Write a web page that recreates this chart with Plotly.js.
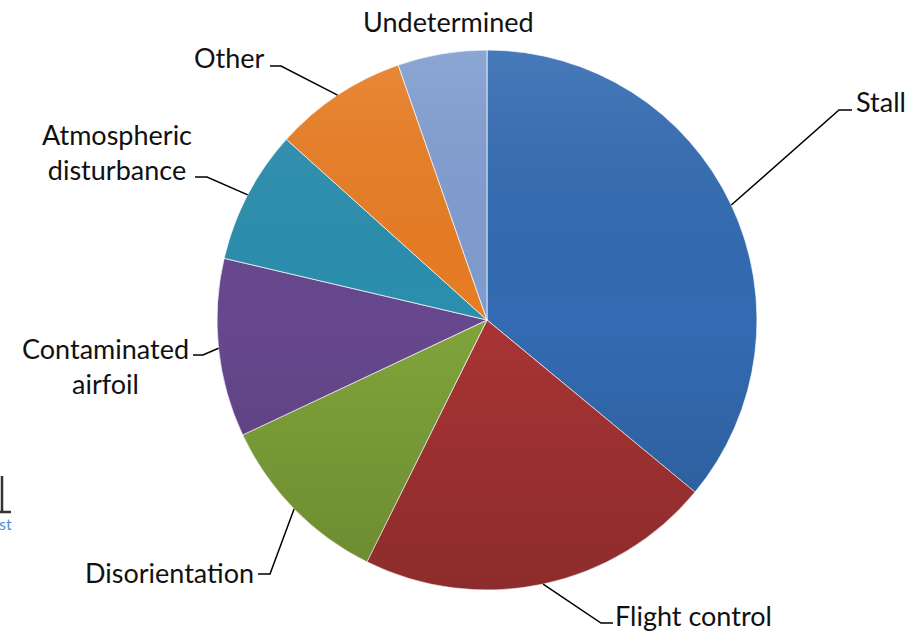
<!DOCTYPE html>
<html>
<head>
<meta charset="utf-8">
<script src="https://cdn.plot.ly/plotly-3.0.1.min.js"></script>
<style>html,body{margin:0;padding:0;background:#fff;}#chart{width:910px;height:633px;}</style>
</head>
<body>
<div id="chart"></div>
<script>
// ---- data ----
const categories = ["Stall", "Flight control", "Disorientation", "Contaminated airfoil", "Atmospheric disturbance", "Other", "Undetermined"];
const labelTexts = ["Stall", "Flight control", "Disorientation", "Contaminated<br>airfoil", "Atmospheric<br>disturbance", "Other", "Undetermined"];
const values = [27, 16, 8, 8, 6, 6, 4];
const colors = ["#336bb2", "#a83434", "#80a43a", "#67488e", "#2b8fae", "#e87d24", "#809dd0"];

// ---- geometry / style ----
const W = 910, H = 633;
const CX = 487, CY = 320, R = 270;
const px = x => x / W;
const py = y => 1 - y / H;

// label styling: elbow point, end of leader, label anchor (pixel space)
const labelStyle = [
  {elbow: [839, 110], end: [852, 110], pos: [854, 101], xa: "left"},
  {elbow: [601, 623], end: [613, 623], pos: [613, 615], xa: "left"},
  {elbow: [270, 574], end: [258, 574], pos: [256, 572], xa: "right"},
  {elbow: [203, 355], end: [193, 355], pos: [191, 366], xa: "right"},
  {elbow: [207, 177], end: [195, 177], pos: [194, 152], xa: "right"},
  {elbow: [281, 66], end: [270, 66], pos: [267, 57], xa: "right"},
  {elbow: null, end: null, pos: [448, 22], xa: "center"}
];

const total = values.reduce((a, b) => a + b, 0);
let cum = 0;
const shapes = [];
const annotations = [];
values.forEach((v, i) => {
  const mid = (cum + v / 2) / total * 2 * Math.PI;
  cum += v;
  const sx = CX + R * Math.sin(mid), sy = CY - R * Math.cos(mid);
  const st = labelStyle[i];
  if (st.elbow) {
    shapes.push({
      type: "path", xref: "paper", yref: "paper",
      path: `M ${px(sx)} ${py(sy)} L ${px(st.elbow[0])} ${py(st.elbow[1])} L ${px(st.end[0])} ${py(st.end[1])}`,
      line: {color: "#000", width: 1.5}
    });
  }
  annotations.push({
    xref: "paper", yref: "paper", x: px(st.pos[0]), y: py(st.pos[1]),
    xanchor: st.xa, yanchor: "middle", align: "center",
    text: labelTexts[i], showarrow: false,
    font: {family: "Lato, 'Open Sans', sans-serif", size: 27, color: "#111"}
  });
});

// partial logo at left edge
shapes.push({type: "line", xref: "paper", yref: "paper", x0: px(2), y0: py(476), x1: px(2), y1: py(512), line: {color: "#333", width: 2.5}});
shapes.push({type: "line", xref: "paper", yref: "paper", x0: px(0), y0: py(512), x1: px(11), y1: py(512), line: {color: "#333", width: 2.5}});
annotations.push({xref: "paper", yref: "paper", x: px(-3), y: py(523), xanchor: "left", yanchor: "middle",
  text: "st", showarrow: false, font: {family: "Lato, sans-serif", size: 16, color: "#4a8fd6"}});

// gradient overlay
const svg = `<svg xmlns='http://www.w3.org/2000/svg' width='540' height='540'><defs><linearGradient id='g' x1='0' y1='0' x2='0' y2='1'><stop offset='0' stop-color='#fff' stop-opacity='0.10'/><stop offset='0.5' stop-color='#000' stop-opacity='0'/><stop offset='1' stop-color='#000' stop-opacity='0.16'/></linearGradient></defs><circle cx='270' cy='270' r='270' fill='url(#g)'/></svg>`;
const img = "data:image/svg+xml;charset=utf-8," + encodeURIComponent(svg);

const trace = {
  type: "pie",
  labels: categories,
  values: values,
  sort: false,
  direction: "clockwise",
  rotation: 0,
  textinfo: "none",
  hoverinfo: "label+value",
  marker: {colors: colors, line: {color: "rgba(255,255,255,0.7)", width: 1}},
  domain: {x: [px(CX - R), px(CX + R)], y: [py(CY + R), py(CY - R)]},
  showlegend: false
};

const layout = {
  width: W, height: H,
  margin: {l: 0, r: 0, t: 0, b: 0},
  paper_bgcolor: "#fff",
  showlegend: false,
  shapes: shapes,
  annotations: annotations,
  images: [{source: img, xref: "paper", yref: "paper", x: px(CX - R), y: py(CY - R),
    sizex: px(2 * R), sizey: 2 * R / H, xanchor: "left", yanchor: "top", layer: "above", sizing: "stretch"}]
};

Plotly.newPlot("chart", [trace], layout, {displayModeBar: false, staticPlot: true});
</script>
</body>
</html>
